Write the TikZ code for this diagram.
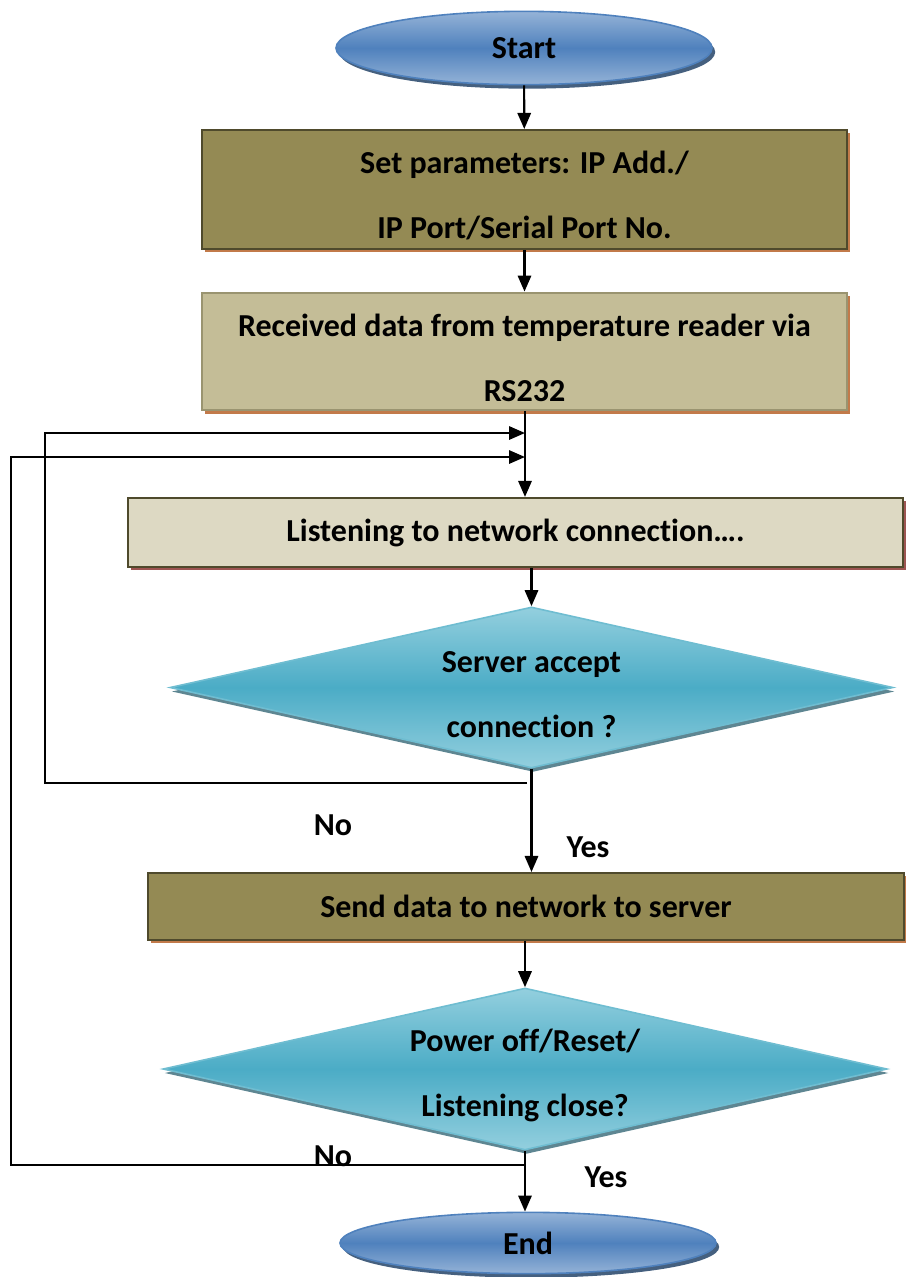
\documentclass[tikz,border=0pt]{standalone}
\usepackage{fontspec}
\setmainfont{Carlito}[Ligatures=NoCommon]
\usetikzlibrary{shapes,arrows.meta,positioning,shadows,calc}
\usepackage{xcolor}

\definecolor{oliveFill}{HTML}{948A54}
\definecolor{oliveLine}{HTML}{4F4A2C}
\definecolor{sandFill}{HTML}{C4BD97}
\definecolor{sandLine}{HTML}{9A9470}
\definecolor{paleFill}{HTML}{DDD9C3}
\definecolor{rustShadow}{HTML}{C27A4A}
\definecolor{redShadow}{HTML}{9E5552}
\definecolor{tealMid}{HTML}{4BACC6}
\definecolor{tealLight}{HTML}{93CFDE}
\definecolor{tealShadow}{HTML}{5E8692}
\definecolor{blueMid}{HTML}{4F81BD}
\definecolor{blueLight}{HTML}{95B3D7}
\definecolor{blueShadow}{HTML}{45607F}

% taller first line, pushes two-line texts down a bit
\newcommand{\tallstrut}{\rule{0pt}{13pt}}

\tikzset{
  txt/.style={font=\bfseries\fontsize{12}{24.4}\selectfont, align=center},
  arr/.style={line width=0.8pt, -{Triangle[length=6pt,width=5pt]}},
  loopline/.style={line width=0.8pt, -{Triangle[length=6pt,width=5pt]}},
  terminal/.style={txt, ellipse, draw=blueMid, line width=0.6pt, top color=blueLight, bottom color=blueLight, middle color=blueMid,
    drop shadow={shadow xshift=1.2pt, shadow yshift=-1.5pt, fill=blueShadow, opacity=1}},
  darkbox/.style={txt, rectangle, draw=oliveLine, line width=0.8pt, fill=oliveFill,
    drop shadow={shadow xshift=1.2pt, shadow yshift=-1.2pt, fill=rustShadow, opacity=1}},
  lightbox/.style={txt, rectangle, draw=sandLine, line width=0.8pt, fill=sandFill,
    drop shadow={shadow xshift=1.2pt, shadow yshift=-1.2pt, fill=rustShadow, opacity=1}},
  palebox/.style={txt, rectangle, draw=oliveLine, line width=0.8pt, fill=paleFill,
    drop shadow={shadow xshift=1.2pt, shadow yshift=-1.2pt, fill=redShadow, opacity=1}},
  decision/.style={txt, diamond, aspect=4.5, inner sep=0pt, draw=tealMid!80!white, line width=0.6pt,
    top color=tealLight, bottom color=tealLight, middle color=tealMid,
    drop shadow={shadow xshift=0.6pt, shadow yshift=-1.5pt, fill=tealShadow, opacity=1}},
}

\begin{document}
\begin{tikzpicture}[x=0.375pt, y=-0.375pt]
            \useasboundingbox (0,0) rectangle (905,1277);

            % Start
            \node[terminal, minimum width=141pt, minimum height=27.5pt] (start) at (524,48) {Start};

            % Setup boxes
            \node[darkbox, minimum width=241.9pt, minimum height=43.9pt] (setpar) at (524.5,189.5)
                {\tallstrut Set parameters: IP Add./\\IP Port/Serial Port No.};
            \draw[arr] (start) -- (setpar);

            \node[lightbox, minimum width=241.9pt, minimum height=43.9pt] (recv) at (524.5,351.5)
                {\tallstrut Received data from temperature reader via\\RS232};
            \draw[arr] (setpar) -- (recv);

            % Listening
            \node[palebox, minimum width=290.6pt, minimum height=25.9pt] (listen) at (515.5,532.5)
                {Listening to network connection\dots.};
            \coordinate (j1) at (525,433);
            \coordinate (j2) at (525,457);
            \draw[arr] (recv.south -| j1) -- (listen.north -| j1);

            % First decision
            \node[decision, minimum width=271.1pt, minimum height=60.4pt] (accept) at (531.5,687.5)
                {\tallstrut Server accept\\connection ?};
            \draw[arr] (listen.south -| accept.north) -- (accept.north);

            \node[darkbox, minimum width=283.5pt, minimum height=25.1pt] (send) at (526,906.5)
                {Send data to network to server};
            \draw[arr] (accept.south) -- (accept.south |- send.north);
            \node[txt] (yes1) at (588,847) {Yes};
            \node[txt] (no1) at (333,825) {No};
            \coordinate (n1) at (527,783);
            \draw[loopline] (n1) -- ++(-482,0) |- (j1);

            % Second decision
            \node[decision, minimum width=271.5pt, minimum height=60.75pt] (power) at (525,1069)
                {\tallstrut Power off/Reset/\\Listening close?};
            \draw[arr] (send.south -| power.north) -- (power.north);

            % End
            \node[terminal, minimum width=141pt, minimum height=23pt] (stop) at (528,1243) {End};
            \draw[arr] (power.south) -- (power.south |- stop.north);
            \node[txt] (yes2) at (606,1177) {Yes};
            \node[txt] (no2) at (333,1156) {No};
            \coordinate (n2) at (525,1165);
            \draw[loopline] (n2) -- ++(-514,0) |- (j2);
        \end{tikzpicture}
\end{document}
